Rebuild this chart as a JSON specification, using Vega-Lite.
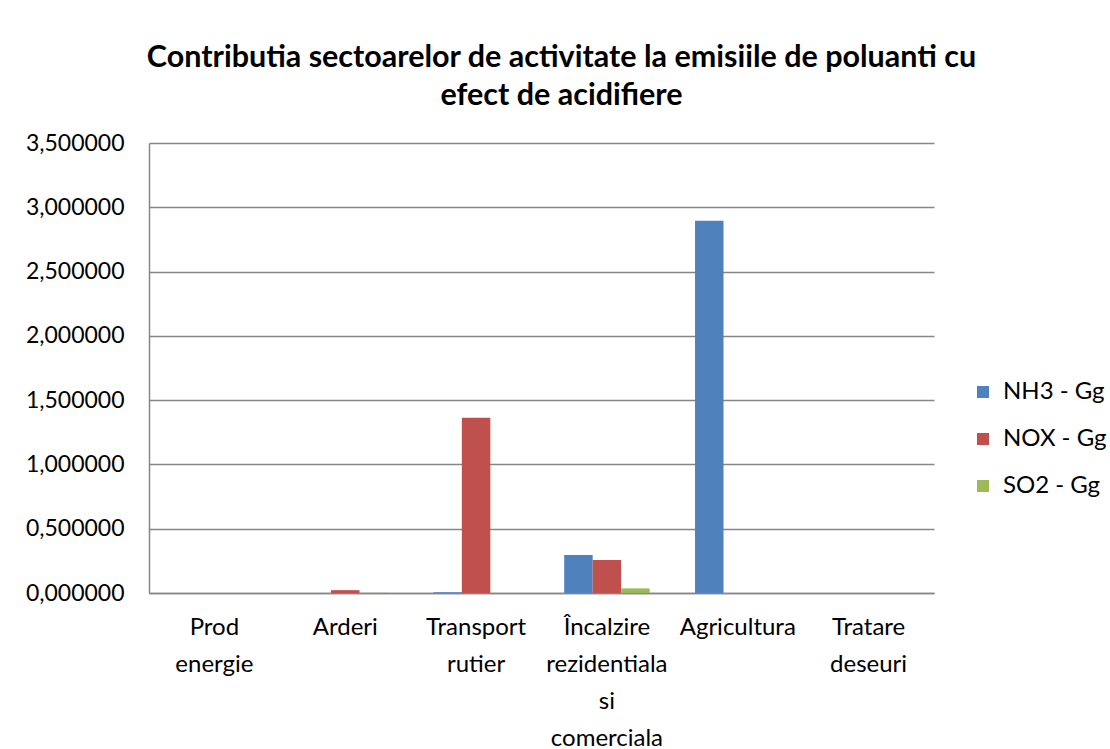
{
  "$schema": "https://vega.github.io/schema/vega-lite/v6.json",
  "width": 785,
  "height": 450,
  "autosize": {"type": "none"},
  "padding": {"left": 149, "top": 143, "right": 176, "bottom": 156},
  "background": "white",
  "title": {
    "text": ["Contributia sectoarelor de activitate la emisiile de poluanti cu", "efect de acidifiere"],
    "font": "Lato",
    "fontSize": 30.5,
    "fontWeight": "bold",
    "color": "black",
    "anchor": "middle",
    "frame": "group",
    "dx": 20,
    "lineHeight": 38,
    "offset": 21
  },
  "data": {
    "values": [
      {"sector": "Prod energie", "poluant": "NH3 - Gg", "valoare": 0},
      {"sector": "Prod energie", "poluant": "NOX - Gg", "valoare": 0},
      {"sector": "Prod energie", "poluant": "SO2 - Gg", "valoare": 0},
      {"sector": "Arderi", "poluant": "NH3 - Gg", "valoare": 0},
      {"sector": "Arderi", "poluant": "NOX - Gg", "valoare": 0.022},
      {"sector": "Arderi", "poluant": "SO2 - Gg", "valoare": 0.001},
      {"sector": "Transport rutier", "poluant": "NH3 - Gg", "valoare": 0.006},
      {"sector": "Transport rutier", "poluant": "NOX - Gg", "valoare": 1.363},
      {"sector": "Transport rutier", "poluant": "SO2 - Gg", "valoare": 0},
      {"sector": "Încalzire rezidentiala si comerciala", "poluant": "NH3 - Gg", "valoare": 0.295},
      {"sector": "Încalzire rezidentiala si comerciala", "poluant": "NOX - Gg", "valoare": 0.257},
      {"sector": "Încalzire rezidentiala si comerciala", "poluant": "SO2 - Gg", "valoare": 0.036},
      {"sector": "Agricultura", "poluant": "NH3 - Gg", "valoare": 2.895},
      {"sector": "Agricultura", "poluant": "NOX - Gg", "valoare": 0},
      {"sector": "Agricultura", "poluant": "SO2 - Gg", "valoare": 0},
      {"sector": "Tratare deseuri", "poluant": "NH3 - Gg", "valoare": 0},
      {"sector": "Tratare deseuri", "poluant": "NOX - Gg", "valoare": 0},
      {"sector": "Tratare deseuri", "poluant": "SO2 - Gg", "valoare": 0}
    ]
  },
  "mark": {"type": "bar"},
  "encoding": {
    "x": {
      "field": "sector",
      "type": "nominal",
      "sort": ["Prod energie", "Arderi", "Transport rutier", "Încalzire rezidentiala si comerciala", "Agricultura", "Tratare deseuri"],
      "scale": {"paddingInner": 0.347, "paddingOuter": 0.1735},
      "axis": {
        "title": null,
        "labelAngle": 0,
        "labelFont": "Lato",
        "labelFontSize": 24,
        "labelColor": "black",
        "labelLineHeight": 37,
        "labelPadding": 22,
        "ticks": false,
        "domainColor": "#868686",
        "domainWidth": 1.5,
        "labelExpr": "datum.value == 'Prod energie' ? ['Prod', 'energie'] : datum.value == 'Transport rutier' ? ['Transport', 'rutier'] : datum.value == 'Tratare deseuri' ? ['Tratare', 'deseuri'] : datum.value == 'Încalzire rezidentiala si comerciala' ? ['Încalzire', 'rezidentiala', 'si', 'comerciala'] : datum.value"
      }
    },
    "xOffset": {
      "field": "poluant",
      "type": "nominal",
      "sort": ["NH3 - Gg", "NOX - Gg", "SO2 - Gg"],
      "scale": {"paddingInner": 0, "paddingOuter": 0}
    },
    "y": {
      "field": "valoare",
      "type": "quantitative",
      "scale": {"domain": [0, 3.5], "nice": false},
      "axis": {
        "title": null,
        "values": [0, 0.5, 1, 1.5, 2, 2.5, 3, 3.5],
        "labelExpr": "replace(format(datum.value, '.6f'), '.', ',')",
        "labelFont": "Lato",
        "labelFontSize": 23,
        "labelColor": "black",
        "labelPadding": 25,
        "ticks": false,
        "grid": true,
        "gridColor": "#868686",
        "gridWidth": 1.5,
        "domainColor": "#868686",
        "domainWidth": 1.5
      }
    },
    "color": {
      "field": "poluant",
      "type": "nominal",
      "sort": ["NH3 - Gg", "NOX - Gg", "SO2 - Gg"],
      "scale": {"domain": ["NH3 - Gg", "NOX - Gg", "SO2 - Gg"], "range": ["#4F81BD", "#C0504D", "#9BBB59"]},
      "legend": {
        "title": null,
        "orient": "none",
        "legendX": 822,
        "legendY": 237,
        "symbolType": "square",
        "symbolSize": 144,
        "symbolStrokeWidth": 0,
        "labelFont": "Lato",
        "labelFontSize": 24,
        "labelColor": "black",
        "labelOffset": 8,
        "rowPadding": 23,
        "padding": 0
      }
    }
  },
  "config": {"view": {"stroke": null}}
}
